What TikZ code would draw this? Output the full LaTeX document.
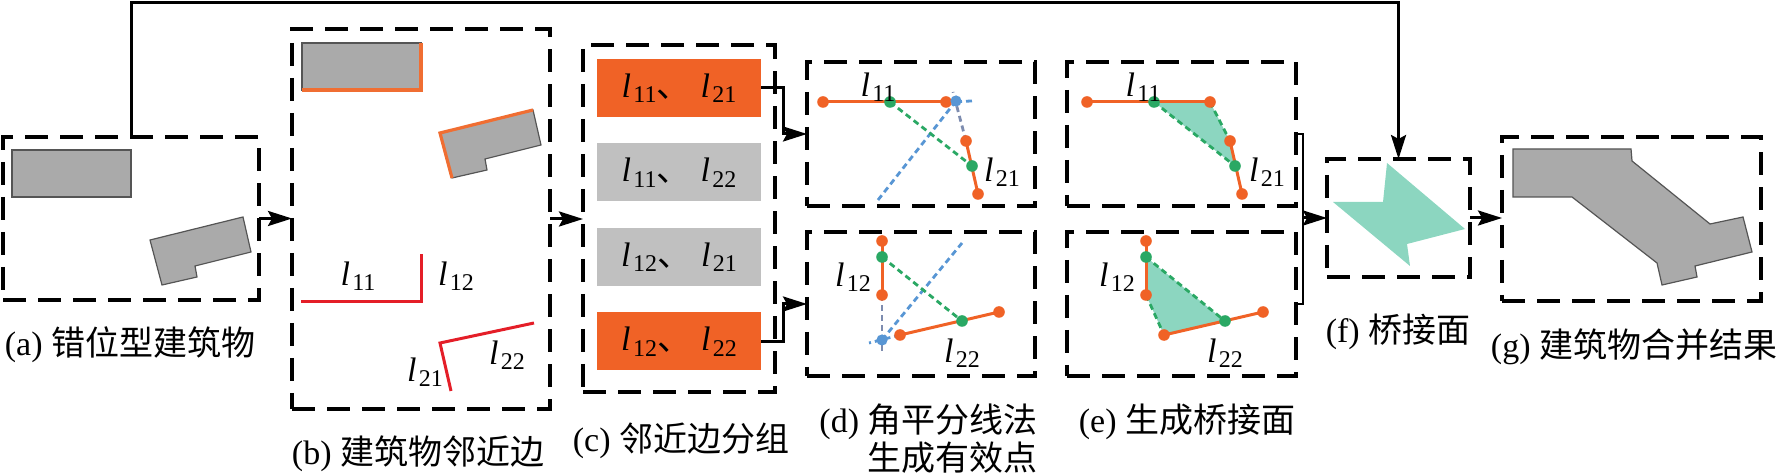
\documentclass[tikz,border=0pt]{standalone}
\usepackage{fontspec}
\setmainfont{Liberation Serif}
\newfontfamily\cjk{Noto Sans CJK SC}
\usetikzlibrary{arrows.meta}
\definecolor{myorange}{RGB}{240,98,38}
\definecolor{edgeorange}{RGB}{240,110,50}
\definecolor{rectgray}{RGB}{192,192,192}
\definecolor{bldgray}{RGB}{170,170,170}
\definecolor{bldedge}{RGB}{85,85,85}
\definecolor{myred}{RGB}{228,30,40}
\definecolor{mygreen}{RGB}{42,168,100}
\definecolor{myblue}{RGB}{88,150,212}
\definecolor{bluegray}{RGB}{125,140,175}
\definecolor{myteal}{RGB}{140,214,192}
\newcommand{\lb}[1]{\textit{l}\kern1.2pt\raisebox{-0.35ex}{\fontsize{12pt}{12pt}\selectfont #1}}
\begin{document}
\begin{tikzpicture}[x=0.5pt,y=-0.5pt,
  dbox/.style={draw=black,line width=1.8pt,dash pattern=on 11.5pt off 6pt,inner sep=0pt,outer sep=0pt},
  conn/.style={draw=black,line width=1.5pt},
  thinconn/.style={draw=black,line width=1.1pt},
  arr/.style={conn,-{Stealth[length=12pt,width=7.5pt,inset=2pt]}},
  bld/.style={fill=bldgray,draw=bldedge,line width=0.6pt},
  bedge/.style={draw=edgeorange,line width=1.6pt},
  rline/.style={draw=myred,line width=1.5pt},
  oline/.style={draw=myorange,line width=1.5pt},
  gdash/.style={draw=mygreen,line width=1.4pt,dash pattern=on 3pt off 2pt},
  bdash/.style={draw=myblue,line width=1.4pt,dash pattern=on 3pt off 2pt},
  gbdash/.style={draw=bluegray,line width=1.4pt,dash pattern=on 3pt off 2pt},
  dotO/.style={circle,fill=myorange,inner sep=0pt,minimum size=5.8pt},
  dotG/.style={circle,fill=mygreen,inner sep=0pt,minimum size=5.8pt},
  dotB/.style={circle,fill=myblue,inner sep=0pt,minimum size=5.6pt},
  lab/.style={inner sep=0pt,font=\fontsize{17pt}{18pt}\selectfont},
  capt/.style={inner sep=0pt,font=\fontsize{17pt}{20pt}\selectfont},
  rbox/.style={minimum width=82pt,minimum height=29pt,inner sep=0pt,outer sep=0pt,font=\fontsize{17pt}{18pt}\selectfont}
]
\useasboundingbox (0,0) rectangle (1780,474);

% ---------- frames ----------
\node[dbox,minimum width=128pt,minimum height=81.5pt] (boxA) at (131,218.5) {};
\node[dbox,minimum width=129pt,minimum height=190pt] (boxB) at (421,219) {};
\node[dbox,minimum width=96pt,minimum height=173.5pt] (boxC) at (679,218.5) {};
\node[dbox,minimum width=114pt,minimum height=72pt] (boxD1) at (921,134) {};
\node[dbox,minimum width=114pt,minimum height=72pt] (boxD2) at (921,304) {};
\node[dbox,minimum width=114.5pt,minimum height=72pt] (boxE1) at (1181.5,134) {};
\node[dbox,minimum width=114.5pt,minimum height=72pt] (boxE2) at (1181.5,304) {};
\node[dbox,minimum width=71.5pt,minimum height=59pt] (boxF) at (1398.5,218) {};
\node[dbox,minimum width=129.5pt,minimum height=82pt] (boxG) at (1631.5,219) {};

% ---------- (a) buildings ----------
\filldraw[bld] (12,150) rectangle (131,197);
\filldraw[bld] (150,240) -- (243,217) -- (251,252) -- (195,266) -- (197,277) -- (162,285) -- cycle;

% ---------- (b) ----------
\filldraw[bld] (302,43) rectangle (421,90);
\draw[bedge] (421,43) -- (421,90) -- (302,90);
\filldraw[bld] (440,133) -- (533,110) -- (541,145) -- (485,159) -- (487,170) -- (452,178) -- cycle;
\draw[bedge] (452,178) -- (440,133) -- (533,110);
\draw[rline] (301,302) -- (421,302) -- (421,254);
\draw[rline] (451,391) -- (440,343) -- (534,323);
\node[lab] (bl11) at (358,276) {\lb{11}};
\node[lab] (bl12) at (456,276) {\lb{12}};
\node[lab] (bl21) at (425,372) {\lb{21}};
\node[lab] (bl22) at (507,355) {\lb{22}};

% ---------- (c) ----------
\node[rbox,fill=myorange] (r1) at (679,88) {\lb{11}{\cjk 、}\hspace{5pt}\lb{21}};
\node[rbox,fill=rectgray] (r2) at (679,172.5) {\lb{11}{\cjk 、}\hspace{5pt}\lb{22}};
\node[rbox,fill=rectgray] (r3) at (679,257) {\lb{12}{\cjk 、}\hspace{5pt}\lb{21}};
\node[rbox,fill=myorange] (r4) at (679,341.5) {\lb{12}{\cjk 、}\hspace{5pt}\lb{22}};

% ---------- (d) top ----------
\coordinate (dO1) at (823,102);
\coordinate (dG1) at (890,102);
\coordinate (dO2) at (946,102);
\coordinate (dB) at (956,101);
\coordinate (dO3) at (966,141);
\coordinate (dG2) at (972,166);
\coordinate (dO4) at (978,194);
\coordinate (dBis) at (878,200);
\coordinate (dX1) at (972,101);
\coordinate (dX2) at (953,92);
\draw[bdash] (dBis) -- (dB);
\draw[gbdash] (dO3) -- (dX2);
\draw[bdash] (dO2) -- (dX1);
\draw[gdash] (dG1) -- (dG2);
\draw[oline] (dO1) -- (dO2);
\draw[oline] (dO3) -- (dO4);
\foreach \p in {dO1,dO2,dO3,dO4} \node[dotO] (n\p) at (\p) {};
\foreach \p in {dG1,dG2} \node[dotG] (n\p) at (\p) {};
\node[dotB] (ndB) at (dB) {};
\node[lab] (dl11) at (878,87) {\lb{11}};
\node[lab] (dl21) at (1002,172) {\lb{21}};

% ---------- (d) bottom ----------
\coordinate (dO5) at (882,241);
\coordinate (dG3) at (882,257);
\coordinate (dO6) at (882,295);
\coordinate (dB2) at (882,340);
\coordinate (dX3) at (882,352);
\coordinate (dO7) at (900,335);
\coordinate (dG4) at (962,321);
\coordinate (dO8) at (999,312);
\coordinate (dX4) at (869,343);
\coordinate (dBis2) at (962,243);
\draw[gbdash] (dO6) -- (dX3);
\draw[bdash] (dO7) -- (dX4);
\draw[bdash] (dB2) -- (dBis2);
\draw[gdash] (dG3) -- (dG4);
\draw[oline] (dO5) -- (dO6);
\draw[oline] (dO7) -- (dO8);
\foreach \p in {dO5,dO6,dO7,dO8} \node[dotO] (n\p) at (\p) {};
\foreach \p in {dG3,dG4} \node[dotG] (n\p) at (\p) {};
\node[dotB] (ndB2) at (dB2) {};
\node[lab] (dl12) at (853,277) {\lb{12}};
\node[lab] (dl22) at (962,353) {\lb{22}};

% ---------- (e) ----------
\begin{scope}[shift={(264,0)}]
\coordinate (eO1) at (823,102);
\coordinate (eG1) at (890,102);
\coordinate (eO2) at (946,102);
\coordinate (eO3) at (966,141);
\coordinate (eG2) at (971,166);
\coordinate (eO4) at (978,194);
\fill[myteal] (eG1) -- (eO2) -- (eO3) -- (eG2) -- cycle;
\draw[gdash] (eG1) -- (eG2);
\draw[gdash] (eO2) -- (eO3);
\draw[oline] (eO1) -- (eO2);
\draw[oline] (eO3) -- (eO4);
\foreach \p in {eO1,eO2,eO3,eO4} \node[dotO] (n\p) at (\p) {};
\foreach \p in {eG1,eG2} \node[dotG] (n\p) at (\p) {};
\node[lab] (el11) at (879,87) {\lb{11}};
\node[lab] (el21) at (1003,172) {\lb{21}};
\coordinate (eO5) at (882,241);
\coordinate (eG3) at (882,257);
\coordinate (eO6) at (882,295);
\coordinate (eO7) at (900,335);
\coordinate (eG4) at (961,321);
\coordinate (eO8) at (999,312);
\fill[myteal] (eG3) -- (eO6) -- (eO7) -- (eG4) -- cycle;
\draw[gdash] (eG3) -- (eG4);
\draw[gdash] (eO6) -- (eO7);
\draw[oline] (eO5) -- (eO6);
\draw[oline] (eO7) -- (eO8);
\foreach \p in {eO5,eO6,eO7,eO8} \node[dotO] (n\p) at (\p) {};
\foreach \p in {eG3,eG4} \node[dotG] (n\p) at (\p) {};
\node[lab] (el12) at (853,277) {\lb{12}};
\node[lab] (el22) at (961,353) {\lb{22}};
\end{scope}

% ---------- (f) ----------
\fill[myteal] (1387,163) -- (1465,229) -- (1407,244) -- (1410,266) -- (1333,202) -- (1383,202) -- cycle;

% ---------- (g) ----------
\filldraw[bld] (1513,149) -- (1631,149) -- (1632,161) -- (1710,224) -- (1743,217) -- (1752,252) -- (1695,266) -- (1697,277) -- (1662,285) -- (1657,263) -- (1572,197) -- (1513,197) -- cycle;

% ---------- connectors ----------
\coordinate (topline) at (0,3);
\draw[arr] (boxA.north) -- (boxA.north |- topline) -| (boxF.north);
\draw[arr] (boxA.east) -- (boxA.east -| boxB.west);
\draw[arr] (boxB.east) -- (boxB.east -| boxC.west);
\draw[arr] (r1.east) -- ++(22,0) |- (boxD1.west);
\draw[arr] (r4.east) -- ++(22,0) |- (boxD2.west);
\coordinate (brk) at (1303,218);
\draw[thinconn] (boxE1.east) -| (brk) |- (boxE2.east);
\draw[arr] (brk) -- (brk -| boxF.west);
\draw[arr] (boxF.east) -- (boxF.east -| boxG.west);

% ---------- captions ----------
\node[capt] (capA) at (130,345) {(a) {\cjk 错位型建筑物}};
\node[capt] (capB) at (418,454) {(b) {\cjk 建筑物邻近边}};
\node[capt] (capC) at (681,441) {(c) {\cjk 邻近边分组}};
\node[capt,anchor=east] (capD1) at (1038,422) {(d) {\cjk 角平分线法}};
\node[capt,anchor=east] (capD2) at (1038,458) {{\cjk 生成有效点}};
\node[capt] (capE) at (1187,422) {(e) {\cjk 生成桥接面}};
\node[capt] (capF) at (1398,332) {(f) {\cjk 桥接面}};
\node[capt] (capG) at (1634,347) {(g) {\cjk 建筑物合并结果}};
\end{tikzpicture}
\end{document}
